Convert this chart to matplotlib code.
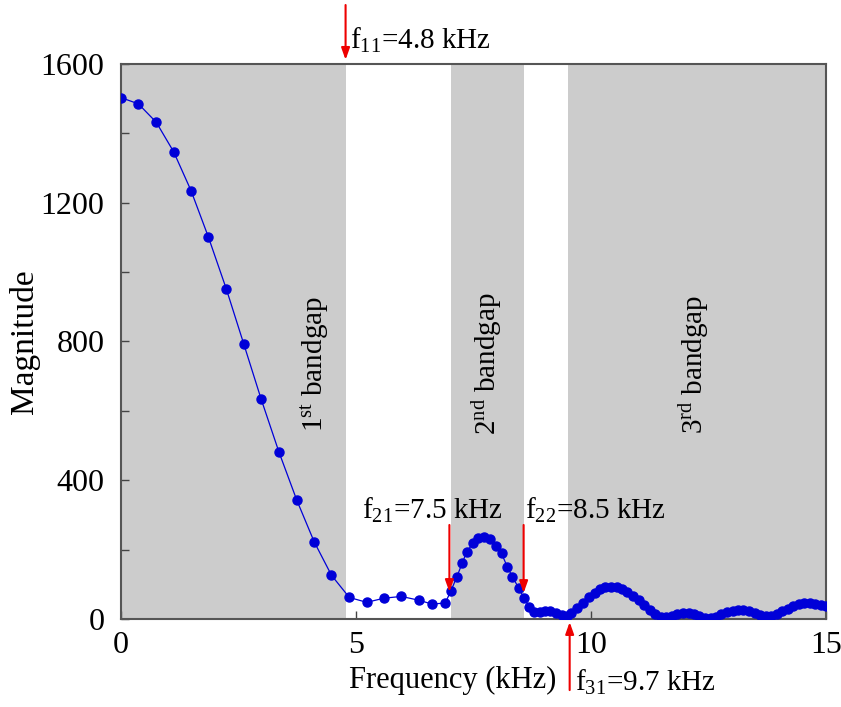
import matplotlib
matplotlib.use("Agg")
import matplotlib.pyplot as plt

plt.rcParams['font.family'] = ['Liberation Serif', 'DejaVu Serif']
plt.rcParams['mathtext.fontset'] = 'custom'
plt.rcParams['mathtext.rm'] = 'Liberation Serif'
plt.rcParams['mathtext.it'] = 'Liberation Serif:italic'

# ---- data ----
freq = [0.00, 0.37, 0.75, 1.12, 1.49, 1.86, 2.24, 2.61, 2.98, 3.36, 3.74, 4.11, 4.48, 4.86,
        5.23, 5.60, 5.97, 6.34, 6.62, 6.90,
        7.02, 7.15, 7.26, 7.36, 7.49, 7.60, 7.72, 7.86, 7.98, 8.10, 8.22, 8.33, 8.47, 8.58,
        8.69, 8.80, 8.91, 9.03, 9.14, 9.25, 9.38, 9.50, 9.58, 9.71, 9.83, 9.96,
        10.08, 10.20, 10.31, 10.43, 10.55, 10.67, 10.78, 10.90, 11.02, 11.14, 11.25, 11.37,
        11.49, 11.61, 11.72, 11.84, 11.96, 12.08, 12.19, 12.31, 12.43, 12.55, 12.66, 12.78,
        12.90, 13.02, 13.13, 13.25, 13.37, 13.49, 13.60, 13.72, 13.84, 13.96, 14.07, 14.19,
        14.31, 14.43, 14.54, 14.66, 14.78, 14.90, 15.00]
magnitude = [1503, 1485, 1432, 1347, 1235, 1101, 952, 794, 635, 482, 343, 223, 126, 62,
             48, 60, 65, 54, 43, 46,
             80, 122, 160, 194, 218, 233, 237, 230, 211, 189, 151, 122, 88, 60,
             35, 19, 19, 23, 23, 18, 12, 10, 18, 31, 47, 64,
             76, 85, 91, 93, 91, 86, 78, 67, 54, 40, 27, 15,
             7, 6, 10, 15, 18, 18, 15, 10, 4, 2, 6, 13,
             19, 23, 25, 25, 22, 17, 12, 9, 10, 15, 22, 30,
             37, 42, 45, 46, 44, 41, 38]

bandgaps = [(0.0, 4.78), (7.03, 8.57), (9.51, 15.0)]
bandgap_labels = ['1$^{\\rm st}$ bandgap', '2$^{\\rm nd}$ bandgap', '3$^{\\rm rd}$ bandgap']
bandgap_label_x = [4.13, 7.8, 12.2]

marks = [  # (x, arrow start y, arrow tip y, text, text x, text y)
    (4.78, 1770, 1612, 'f$_{11}$=4.8 kHz', 4.88, 1669),
    (6.99, 271, 78, 'f$_{21}$=7.5 kHz', 5.14, 314),
    (8.57, 271, 75, 'f$_{22}$=8.5 kHz', 8.59, 314),
    (9.55, -205, -9, 'f$_{31}$=9.7 kHz', 9.67, -184),
]

xticks = [0, 5, 10, 15]
yticks = [0, 400, 800, 1200, 1600]

# ---- figure ----
fig = plt.figure(figsize=(8.41, 7.07), dpi=100)
ax = fig.add_axes([0.1439, 0.1245, 0.9818 - 0.1439, 0.9095 - 0.1245])

for (a, b) in bandgaps:
    ax.axvspan(a, b, color='#cccccc', lw=0, zorder=0)

ax.plot(freq, magnitude, '-o', color='#0000d8', lw=0.9, ms=6.5, zorder=3)

for lbl, lx in zip(bandgap_labels, bandgap_label_x):
    ax.text(lx, 735, lbl, rotation=90, ha='center', va='center', fontsize=21)

for (x, ys, yt, txt, tx, ty) in marks:
    ax.annotate('', xy=(x, yt), xytext=(x, ys), annotation_clip=False,
                arrowprops=dict(arrowstyle='-|>,head_length=0.7,head_width=0.25',
                                color='#ee0000', lw=1.5, shrinkA=0, shrinkB=0), zorder=5)
    ax.text(tx, ty, txt, ha='left', va='center', fontsize=21, clip_on=False)

ax.set_xlim(0, 15)
ax.set_ylim(0, 1600)
ax.set_xticks(xticks)
ax.set_yticks(yticks)
ax.set_yticks([200, 600, 1000, 1400], minor=True)
ax.tick_params(axis='both', which='both', direction='in', length=6, width=1, color='#444444',
               labelsize=23, top=False, right=False)
ax.tick_params(axis='y', pad=12)
ax.tick_params(axis='x', pad=9)
for s in ax.spines.values():
    s.set_color('#555555')
    s.set_linewidth(1.5)

ax.set_xlabel('Frequency (kHz)', fontsize=22)
ax.xaxis.set_label_coords(0.47, -0.085)
ax.set_ylabel('Magnitude', fontsize=24)
ax.yaxis.set_label_coords(-0.115, 0.5)

fig.savefig('out.png', dpi=100)
